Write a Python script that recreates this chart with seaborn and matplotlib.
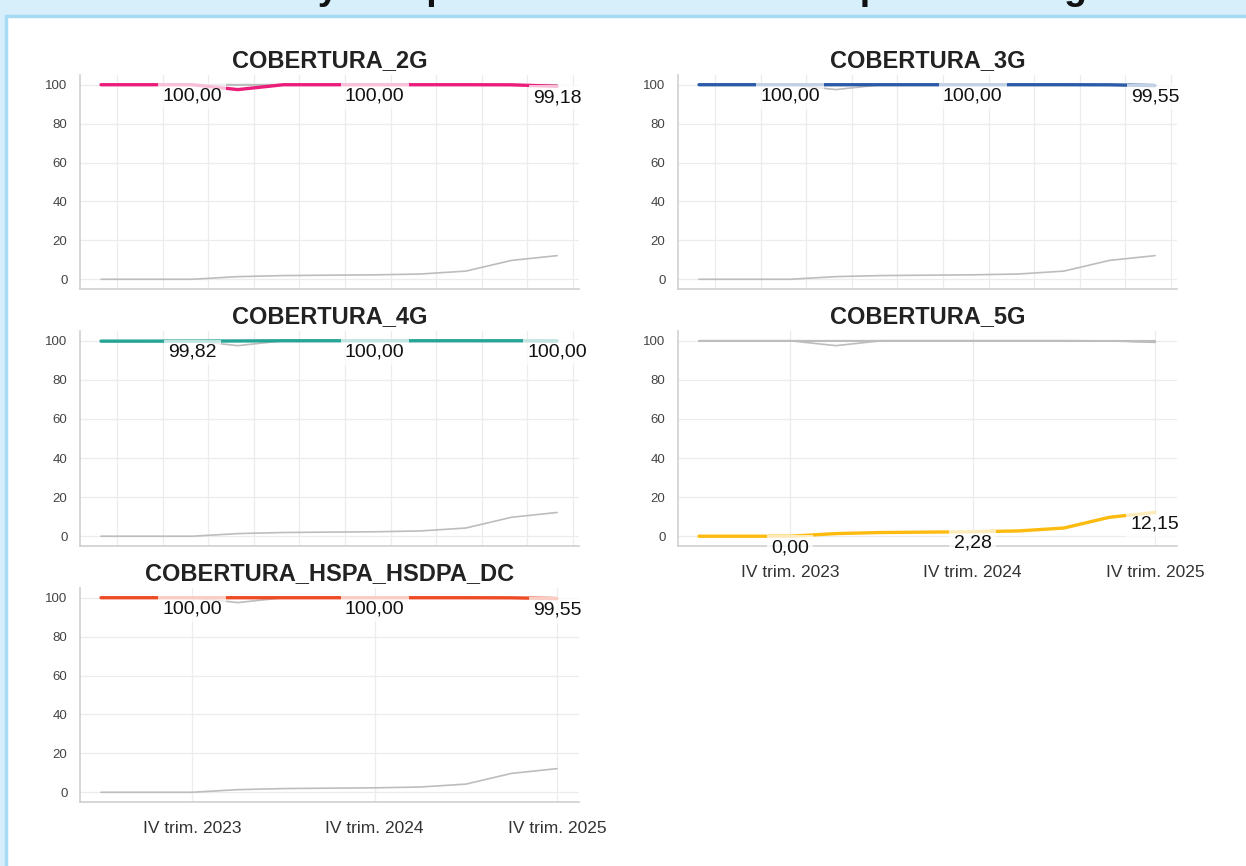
import numpy as np
import pandas as pd
import seaborn as sns
import matplotlib.pyplot as plt
from matplotlib.patches import Rectangle

# Quarterly coverage (%) by technology
trimestres = ["II trim. 2023", "III trim. 2023", "IV trim. 2023",
              "I trim. 2024", "II trim. 2024", "III trim. 2024", "IV trim. 2024",
              "I trim. 2025", "II trim. 2025", "III trim. 2025", "IV trim. 2025"]
cobertura_2g = [100.00, 100.00, 100.00, 97.50, 100.00, 100.00, 100.00, 100.00, 100.00, 99.95, 99.18]
cobertura_3g = [100.00, 100.00, 100.00, 100.00, 100.00, 100.00, 100.00, 100.00, 100.00, 99.95, 99.55]
cobertura_4g = [99.80, 99.80, 99.82, 99.90, 100.00, 100.00, 100.00, 100.00, 100.00, 100.00, 100.00]
cobertura_5g = [0.00, 0.00, 0.00, 1.35, 1.90, 2.10, 2.28, 2.70, 4.20, 9.70, 12.15]
cobertura_hspa = [100.00, 100.00, 100.00, 100.00, 100.00, 100.00, 100.00, 100.00, 100.00, 99.95, 99.55]

series = ["COBERTURA_2G", "COBERTURA_3G", "COBERTURA_4G", "COBERTURA_5G", "COBERTURA_HSPA_HSDPA_DC"]
valores = [cobertura_2g, cobertura_3g, cobertura_4g, cobertura_5g, cobertura_hspa]
colores = ["#ec1d7a", "#2a5ba8", "#25a595", "#fdbb0f", "#ee4a26"]
trim_etiquetados = [2, 6, 10]

df = pd.DataFrame({
    "serie": np.repeat(series, len(trimestres)),
    "idx": np.tile(np.arange(len(trimestres)), len(series)),
    "valor": np.concatenate(valores),
})

sns.set_theme(style="whitegrid")
plt.rcParams["font.family"] = ["Liberation Sans", "DejaVu Sans"]

W, H = 1246, 866
fig = plt.figure(figsize=(W / 100, H / 100), dpi=100)

# Page frame: light blue band, white card with a soft shadow
bg = fig.add_axes([0, 0, 1, 1], zorder=-10)
bg.add_patch(Rectangle((0, 0), W, H, color="#d6effb"))
bg.add_patch(Rectangle((6, 16), W, H, facecolor="white",
                       edgecolor="#a6dbf3", linewidth=2.5))
grad_top = np.linspace(1, 0, 40)[:, None]
bg.imshow(np.dstack([np.zeros((40, 1, 3)), grad_top[..., None] * 0.13]),
          extent=(8, W, 55, 18), aspect="auto", interpolation="bilinear")
grad_left = np.linspace(1, 0, 30)[None, :]
bg.imshow(np.dstack([np.zeros((1, 30, 3)), grad_left[..., None] * 0.12]),
          extent=(8, 36, H, 18), aspect="auto", interpolation="bilinear")
bg.set_xlim(0, W)
bg.set_ylim(H, 0)
bg.axis("off")

# Page heading sits above the top edge; only its descenders reach the band
fig.text(0.5, 1 + 1 / H, "Evolución y comparativa de la cobertura por tecnología",
         ha="center", va="baseline", fontsize=27, fontweight="bold", color="#111111")

# Panel grid (figure fractions)
col_left = [80 / W, 678 / W]
col_w = 499 / W
rows = [(75, 289), (331, 546), (588, 802)]
pos = [(0, 0), (0, 1), (1, 0), (1, 1), (2, 0)]
bottom_panels = {"COBERTURA_5G", "COBERTURA_HSPA_HSDPA_DC"}

for s, color, (r, c) in zip(series, colores, pos):
    top, bot = rows[r]
    ax = fig.add_axes([col_left[c], 1 - bot / H, col_w, (bot - top) / H])
    sns.lineplot(data=df, x="idx", y="valor", units="serie", estimator=None,
                 color="#bdbdbd", linewidth=1.2, ax=ax, legend=False)
    sub = df[df["serie"] == s]
    sns.lineplot(data=sub, x="idx", y="valor", color=color, linewidth=2.4,
                 ax=ax, legend=False)
    for i in trim_etiquetados:
        v = sub["valor"].iloc[i]
        ax.annotate(f"{v:.2f}".replace(".", ","), (i, v), xytext=(0, -2),
                    textcoords="offset points", ha="center", va="top",
                    fontsize=14, color="#111111", zorder=5,
                    bbox=dict(boxstyle="square,pad=0.22", fc="white",
                              ec="none", alpha=0.72))

    ax.set_xlim(-0.46, 10.48)
    ax.set_ylim(-5, 105)
    ax.set_yticks([0, 20, 40, 60, 80, 100])
    ax.tick_params(axis="y", labelsize=9.5, labelcolor="#444444", length=0, pad=9)
    if s in bottom_panels:
        ax.set_xticks(trim_etiquetados)
        ax.set_xticklabels([trimestres[i] for i in trim_etiquetados])
        ax.tick_params(axis="x", labelsize=12.5, labelcolor="#333333", length=0, pad=14)
    else:
        ax.set_xticks(np.arange(len(trimestres)) + 0.35)
        ax.set_xticklabels([])
        ax.tick_params(axis="x", length=0)
    ax.set_xlabel("")
    ax.set_ylabel("")
    ax.grid(True, color="#ececec", linewidth=0.9)
    for sp in ["top", "right"]:
        ax.spines[sp].set_visible(False)
    for sp in ["left", "bottom"]:
        ax.spines[sp].set_color("#cfcfcf")
        ax.spines[sp].set_linewidth(1.2)
    ax.set_title(s, fontsize=17, fontweight="bold", color="#222222", pad=6)

fig.savefig("out.png", dpi=100)
